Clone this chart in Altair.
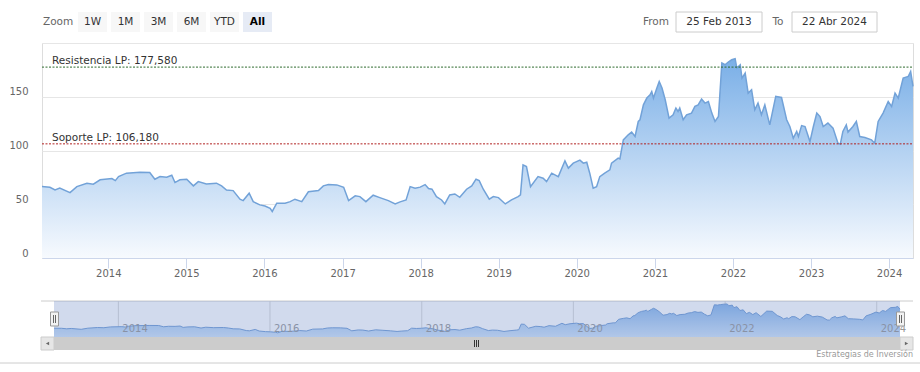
import altair as alt
import pandas as pd

# ---------------- data ----------------
dates = [
    "2013-02-25", "2013-04-03", "2013-04-27", "2013-05-19", "2013-07-06", "2013-08-07",
    "2013-09-23", "2013-10-23", "2013-11-24", "2014-01-18", "2014-02-03", "2014-02-18",
    "2014-03-27", "2014-05-29", "2014-07-14", "2014-08-07", "2014-08-31", "2014-10-01",
    "2014-10-25", "2014-11-09", "2014-12-02", "2015-01-03", "2015-02-03", "2015-02-26",
    "2015-04-05", "2015-05-22", "2015-06-15", "2015-07-08", "2015-08-08", "2015-09-09",
    "2015-09-24", "2015-10-22", "2015-11-10", "2015-12-11", "2016-01-04", "2016-01-28",
    "2016-02-07", "2016-02-28", "2016-04-07", "2016-05-01", "2016-05-23", "2016-06-24",
    "2016-07-25", "2016-09-10", "2016-10-03", "2016-10-27", "2016-12-05", "2017-01-06",
    "2017-01-29", "2017-03-01", "2017-03-23", "2017-04-20", "2017-05-24", "2017-06-24",
    "2017-08-03", "2017-09-04", "2017-09-27", "2017-10-25", "2017-11-13", "2017-12-06",
    "2017-12-30", "2018-01-22", "2018-02-07", "2018-02-23", "2018-03-16", "2018-04-09",
    "2018-04-24", "2018-05-17", "2018-06-10", "2018-07-03", "2018-08-04", "2018-08-28",
    "2018-09-17", "2018-10-02", "2018-10-21", "2018-11-18", "2018-12-07", "2018-12-31",
    "2019-02-01", "2019-03-02", "2019-04-02", "2019-04-13", "2019-04-25", "2019-05-11",
    "2019-05-30", "2019-07-04", "2019-07-28", "2019-08-13", "2019-09-06", "2019-10-07",
    "2019-11-07", "2019-11-23", "2019-12-16", "2020-01-16", "2020-02-01", "2020-02-17",
    "2020-03-02", "2020-03-18", "2020-04-03", "2020-04-18", "2020-05-11", "2020-06-04",
    "2020-06-12", "2020-07-13", "2020-07-21", "2020-08-06", "2020-08-29", "2020-09-14",
    "2020-09-30", "2020-10-15", "2020-10-23", "2020-11-08", "2020-11-24", "2020-12-09",
    "2020-12-17", "2020-12-25", "2021-01-10", "2021-01-21", "2021-02-03", "2021-02-18",
    "2021-03-08", "2021-03-27", "2021-04-09", "2021-04-19", "2021-04-27", "2021-05-13",
    "2021-05-29", "2021-06-21", "2021-07-07", "2021-07-22", "2021-08-07", "2021-08-23",
    "2021-09-08", "2021-09-24", "2021-10-09", "2021-10-25", "2021-11-10", "2021-11-25",
    "2021-12-10", "2021-12-26", "2022-01-11", "2022-01-19", "2022-02-04", "2022-02-12",
    "2022-02-27", "2022-03-13", "2022-03-29", "2022-04-13", "2022-04-28", "2022-05-14",
    "2022-05-30", "2022-06-22", "2022-07-20", "2022-08-16", "2022-09-09", "2022-09-24",
    "2022-10-10", "2022-10-26", "2022-11-03", "2022-11-18", "2022-12-04", "2022-12-27",
    "2023-01-12", "2023-01-28", "2023-02-12", "2023-02-27", "2023-03-21", "2023-04-14",
    "2023-05-07", "2023-05-18", "2023-05-30", "2023-06-15", "2023-06-23", "2023-07-16",
    "2023-08-01", "2023-08-17", "2023-09-10", "2023-10-11", "2023-10-26", "2023-11-11",
    "2023-12-04", "2023-12-28", "2024-01-13", "2024-01-29", "2024-02-13", "2024-03-07",
    "2024-03-31", "2024-04-11", "2024-04-22",
]
prices = [
    66.4, 65.8, 63.3, 65.0, 60.8, 66.4,
    69.6, 68.6, 72.7, 73.9, 72.0, 75.7,
    78.9, 79.8, 79.5, 73.3, 75.7, 75.2,
    77.0, 70.2, 72.7, 73.3, 67.1, 71.1,
    68.9, 69.6, 67.1, 63.3, 62.7, 54.7,
    53.4, 60.3, 52.4, 49.4, 48.4, 46.3,
    43.3, 51.0, 51.0, 52.4, 54.7, 52.4,
    61.6, 62.7, 67.1, 68.3, 68.0, 65.8,
    53.4, 57.8, 57.1, 52.4, 58.4, 56.2,
    53.4, 50.3, 52.2, 54.0, 66.4, 64.9,
    65.9, 68.3, 64.6, 64.0, 57.1, 54.0,
    50.3, 58.7, 59.6, 56.5, 64.0, 67.1,
    73.3, 72.0, 64.0, 54.7, 57.1, 56.2,
    50.3, 54.0, 57.1, 58.7, 86.6, 85.0,
    66.4, 75.7, 74.2, 71.1, 78.9, 75.7,
    90.4, 83.6, 88.2, 91.0, 88.2, 89.1,
    78.9, 64.9, 66.4, 75.7, 78.9, 82.0,
    88.2, 92.9, 92.2, 109.9, 114.6, 117.1,
    113.0, 127.0, 128.6, 142.5, 148.8, 151.8,
    154.9, 148.8, 158.1, 164.2, 158.1, 147.2,
    130.1, 133.2, 139.5, 136.3, 139.5, 128.6,
    133.2, 134.8, 141.0, 142.5, 147.8, 144.1,
    145.6, 134.8, 127.0, 131.6, 181.4, 179.8,
    182.3, 184.4, 185.4, 176.7, 179.8, 167.4,
    172.0, 153.4, 156.5, 137.9, 144.1, 133.2,
    142.5, 123.9, 150.3, 149.3, 128.6, 122.3,
    111.5, 117.7, 113.0, 123.2, 122.3, 108.3,
    122.3, 134.8, 131.6, 122.3, 125.5, 120.8,
    106.8, 105.9, 117.7, 123.9, 117.1, 122.3,
    127.0, 113.0, 112.1, 109.9, 106.8, 127.0,
    134.8, 145.6, 141.0, 153.4, 148.8, 167.4,
    168.9, 173.5, 159.6,
]
resist_level = 177.58
resist_label = "Resistencia LP: 177,580"
support_level = 106.18
support_label = "Soporte LP: 106,180"
y_ticks = [0, 50, 100, 150, 200]
year_ticks = [2014, 2015, 2016, 2017, 2018, 2019, 2020, 2021, 2022, 2023, 2024]
nav_years = [2014, 2016, 2018, 2020, 2022, 2024]
zoom_buttons = ["1W", "1M", "3M", "6M", "YTD", "All"]
selected_button = "All"
from_label, to_label = "From", "To"
from_date, to_date = "25 Feb 2013", "22 Abr 2024"
zoom_label = "Zoom"
credit = "Estrategias de Inversión"

# ---------------- setup ----------------
FONT = "DejaVu Sans"
W, H = 871, 215
df = pd.DataFrame({"date": dates, "price": prices})
one = pd.DataFrame({"a": [0]})


def dt(y, m, d):
    return alt.DateTime(year=y, month=m, date=d, utc=True)


x_domain = [dt(2013, 2, 25), dt(2024, 4, 22)]

x_main = alt.X(
    "date:T",
    scale=alt.Scale(type="utc", domain=x_domain),
    axis=alt.Axis(
        values=[dt(y, 1, 1) for y in year_ticks], format="%Y", title=None,
        labelFont=FONT, labelFontSize=10, labelColor="#666666",
        tickColor="#ccd6eb", tickSize=10, domainColor="#ccd6eb",
        labelPadding=0, grid=False, labelFlush=False,
    ),
)
y_main = alt.Y(
    "price:Q",
    scale=alt.Scale(domain=[0, 200], nice=False),
    axis=alt.Axis(
        values=y_ticks, labelExpr="datum.value == 200 ? '' : datum.label",
        title=None, grid=True, gridColor="#e6e6e6", domain=False, ticks=False,
        labelPadding=14, labelOffset=-5, labelFont=FONT, labelFontSize=10,
        labelColor="#666666",
    ),
)

main_grad = alt.Gradient(
    gradient="linear",
    stops=[alt.GradientStop(color="#f7fafe", offset=0),
           alt.GradientStop(color="#7aafe7", offset=1)],
    x1=1, x2=1, y1=1, y2=0,
)
nav_grad = alt.Gradient(
    gradient="linear",
    stops=[alt.GradientStop(color="#dcebfb", offset=0),
           alt.GradientStop(color="#88b5ea", offset=1)],
    x1=1, x2=1, y1=1, y2=0,
)


def txt(x, y, s, **kw):
    params = dict(font=FONT, baseline="middle", fontSize=10.5)
    params.update(kw)
    return alt.Chart(one).mark_text(text=s, **params).encode(
        x=alt.value(x), y=alt.value(y))


def box(x1, x2, y1, y2, **kw):
    return alt.Chart(one).mark_rect(**kw).encode(
        x=alt.value(x1), x2=alt.value(x2), y=alt.value(y1), y2=alt.value(y2))


def hline(x1, x2, y, color, w=1):
    return alt.Chart(one).mark_rule(color=color, strokeWidth=w).encode(
        x=alt.value(x1), x2=alt.value(x2), y=alt.value(y))


def vline(x, y1, y2, color, w=1):
    return alt.Chart(one).mark_rule(color=color, strokeWidth=w).encode(
        x=alt.value(x), y=alt.value(y1), y2=alt.value(y2))


# ---------------- main panel ----------------
area = alt.Chart(df).mark_area(color=main_grad).encode(x=x_main, y=y_main)
line = alt.Chart(df).mark_line(color="#72a2d8", strokeWidth=1.5).encode(
    x="date:T", y="price:Q")

res_df = pd.DataFrame({"price": [resist_level], "label": [resist_label]})
sup_df = pd.DataFrame({"price": [support_level], "label": [support_label]})
res_rule = alt.Chart(res_df).mark_rule(color="#2e6b2e", strokeDash=[2, 1.5], strokeWidth=1).encode(
    y="price:Q", x=alt.value(0), x2=alt.value(W))
sup_rule = alt.Chart(sup_df).mark_rule(color="#b22222", strokeDash=[2, 1.5], strokeWidth=1).encode(
    y="price:Q", x=alt.value(0), x2=alt.value(W))
res_txt = alt.Chart(res_df).mark_text(align="left", baseline="alphabetic", dy=-3, font=FONT,
                                      fontSize=10.5, color="#333333").encode(
    y="price:Q", x=alt.value(10), text="label:N")
sup_txt = alt.Chart(sup_df).mark_text(align="left", baseline="alphabetic", dy=-3, font=FONT,
                                      fontSize=10.5, color="#333333").encode(
    y="price:Q", x=alt.value(10), text="label:N")

# top range-selector chrome (pixel positions relative to plot origin)
chrome = [txt(1, -21, zoom_label, align="left", color="#666666")]
for i, b in enumerate(zoom_buttons):
    x0 = 36 + 33 * i
    sel = b == selected_button
    chrome.append(box(x0, x0 + 29, -31, -11, fill="#e6ebf5" if sel else "#f7f7f7"))
    chrome.append(txt(x0 + 14.5, -21, b, align="center",
                      color="#000000" if sel else "#333333",
                      fontWeight="bold" if sel else "normal"))
chrome += [
    txt(627, -21, from_label, align="right", color="#666666"),
    box(634, 720, -31, -11, fill="#ffffff", stroke="#cccccc", strokeWidth=1),
    txt(677, -21, from_date, align="center", color="#333333"),
    txt(736, -21, to_label, align="center", color="#666666"),
    box(750, 835, -31, -11, fill="#ffffff", stroke="#cccccc", strokeWidth=1),
    txt(792.5, -21, to_date, align="center", color="#333333"),
]

main_group = alt.layer(*chrome, area, line, res_rule, sup_rule, res_txt, sup_txt)

# ---------------- navigator ----------------
nav_x = alt.X("date:T", scale=alt.Scale(type="utc", domain=x_domain, range=[12, 858]), axis=None)
nav_y = alt.Y("price:Q", scale=alt.Scale(domain=[23, 200], range=[294, 258], nice=False, zero=False),
              axis=None)
nav_df = pd.DataFrame({"date": [f"{y}-01-01" for y in nav_years],
                       "label": [str(y) for y in nav_years]})

nav_layers = [
    hline(-1, W, 258, "#cccccc"),
    alt.Chart(nav_df).mark_rule(color="#d8d8d8", strokeWidth=1).encode(
        x=nav_x, y=alt.value(258), y2=alt.value(294)),
    alt.Chart(df).mark_area(color=nav_grad).encode(x=nav_x, y=nav_y, y2=alt.value(294)),
    alt.Chart(df).mark_line(color="#739ed6", strokeWidth=1).encode(x=nav_x, y=nav_y),
    alt.Chart(nav_df).mark_text(align="left", baseline="middle", dx=4, font=FONT, fontSize=10,
                                color="#999999").encode(x=nav_x, y=alt.value(286), text="label:N"),
    box(12, 858, 258, 294, fill="#6685c2", opacity=0.3),
    # scrollbar
    box(-1, W, 294, 307, fill="#f2f2f2"),
    box(12, 858, 294, 307, fill="#cccccc"),
    box(-1, 12, 294, 307, fill="#e6e6e6", stroke="#cccccc", strokeWidth=1),
    box(858, W, 294, 307, fill="#e6e6e6", stroke="#cccccc", strokeWidth=1),
    alt.Chart(one).mark_point(shape="triangle-left", filled=True, size=14, color="#333333").encode(
        x=alt.value(5.5), y=alt.value(300.5)),
    alt.Chart(one).mark_point(shape="triangle-right", filled=True, size=14, color="#333333").encode(
        x=alt.value(864.5), y=alt.value(300.5)),
    vline(432.5, 297, 304, "#333333"),
    vline(434.5, 297, 304, "#333333"),
    vline(436.5, 297, 304, "#333333"),
    # handles
    box(8.5, 16.5, 269, 283, fill="#f2f2f2", stroke="#999999", strokeWidth=1),
    vline(11.5, 272, 280, "#666666"),
    vline(13.5, 272, 280, "#666666"),
    box(854.5, 862.5, 269, 283, fill="#f2f2f2", stroke="#999999", strokeWidth=1),
    vline(857.5, 272, 280, "#666666"),
    vline(859.5, 272, 280, "#666666"),
    # credit and bottom separator
    txt(W, 312, credit, align="right", fontSize=8, color="#999999"),
    hline(-42, 878, 320, "#cccccc"),
]
nav_group = alt.layer(*nav_layers)

chart = (
    alt.layer(main_group, nav_group)
    .resolve_scale(x="independent", y="independent")
    .properties(
        width=W, height=H,
        autosize=alt.AutoSizeParams(type="none"),
        padding={"left": 42, "top": 43, "right": 7, "bottom": 114},
        background="#ffffff",
    )
    .configure_view(strokeWidth=0)
    .configure(font=FONT)
)

chart.save("out.html", embed_options={"renderer": "svg", "actions": False})
